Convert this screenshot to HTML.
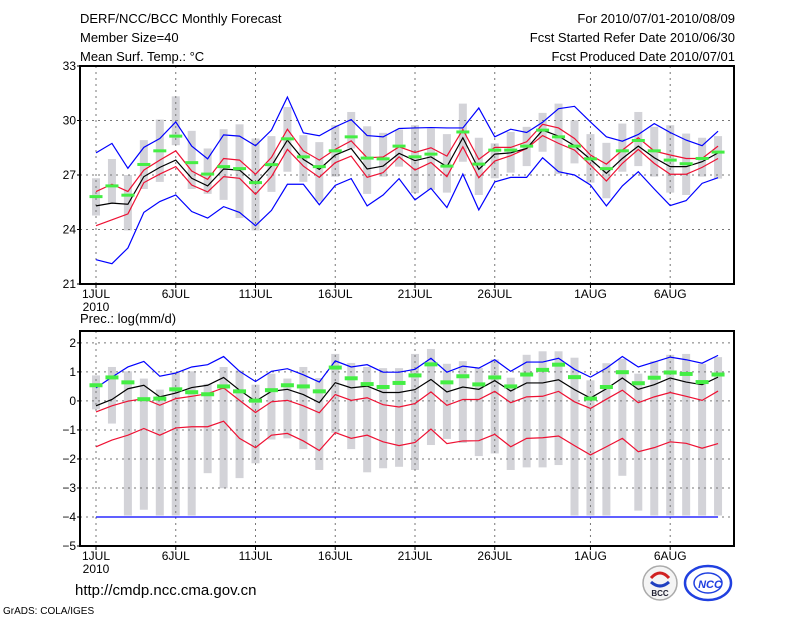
<!DOCTYPE html>
<html><head><meta charset="utf-8"><style>
html,body{margin:0;padding:0;background:#fff;}
svg{display:block;font-family:"Liberation Sans","DejaVu Sans",sans-serif;}
</style></head><body>
<svg id="c" width="800" height="618" viewBox="0 0 800 618" xmlns="http://www.w3.org/2000/svg">
<text x="80" y="23" font-size="13">DERF/NCC/BCC Monthly Forecast</text>
<text x="80" y="42" font-size="13">Member Size=40</text>
<text x="80" y="61" font-size="13">Mean Surf. Temp.: °C</text>
<text x="735" y="23" font-size="13" text-anchor="end">For 2010/07/01-2010/08/09</text>
<text x="735" y="42" font-size="13" text-anchor="end">Fcst Started Refer Date 2010/06/30</text>
<text x="735" y="61" font-size="13" text-anchor="end">Fcst Produced Date 2010/07/01</text>
<text x="80" y="323" font-size="13">Prec.: log(mm/d)</text>
<text x="75" y="595" font-size="15">http://cmdp.ncc.cma.gov.cn</text>
<text x="3" y="614" font-size="10">GrADS: COLA/IGES</text>
<g>
<circle cx="660" cy="583" r="17" fill="#f4f4f4" stroke="#aaa" stroke-width="1.5"/>
<path d="M651 578 q9 -10 18 0" fill="none" stroke="#d02020" stroke-width="3"/>
<path d="M651 582 q9 8 18 0" fill="none" stroke="#2040c0" stroke-width="3"/>
<text x="660" y="596" font-size="8" font-weight="bold" text-anchor="middle" fill="#223">BCC</text>
</g>
<g>
<ellipse cx="708" cy="583" rx="23" ry="17" fill="#fff" stroke="#2040e0" stroke-width="2.5"/>
<ellipse cx="708" cy="583" rx="14" ry="10" fill="none" stroke="#2040e0" stroke-width="1.5"/>
<text x="710" y="588" font-size="11" font-style="italic" font-weight="bold" text-anchor="middle" fill="#2040e0">NCC</text>
</g>
</svg>
<script>
const days = ["1JUL","6JUL","11JUL","16JUL","21JUL","26JUL","1AUG","6AUG"];
const dayIdx = [0,5,10,15,20,25,31,36];
const tTicks = [33,30,27,24,21];
const pTicks = [2,1,0,-1,-2,-3,-4,-5];
// Temperature series (40 days)
const tBlueHi = [28.22,28.74,27.37,28.52,29.01,29.92,28.59,27.89,29.21,29.14,28.61,29.47,31.29,29.32,29.16,29.65,30.05,29.17,29.10,29.56,29.59,29.61,29.59,29.59,30.69,29.10,29.52,29.34,29.90,30.65,30.78,29.92,29.10,28.86,29.23,29.83,29.34,28.92,28.61,29.41];
const tBlueLo = [22.34,22.12,22.98,24.94,25.54,25.90,24.99,24.63,25.26,24.94,24.21,25.05,26.49,26.49,25.36,26.43,26.80,25.30,25.90,26.80,25.63,26.27,25.21,27.05,25.08,26.62,26.87,26.87,27.95,27.18,27.00,26.45,25.30,26.40,27.18,26.23,25.32,25.59,26.54,26.85];
const tRedHi = [26.09,26.49,26.09,27.27,27.82,28.33,27.22,26.76,27.91,27.82,27.04,27.97,29.52,28.33,27.82,28.41,28.88,27.95,27.99,28.55,28.24,28.50,28.04,29.50,27.86,28.52,28.52,28.83,29.79,29.59,29.01,28.10,27.60,28.37,29.05,28.32,28.10,27.91,27.91,28.59];
const tRedLo = [24.21,24.53,24.86,26.58,27.05,27.46,26.45,26.07,26.91,26.82,25.94,26.91,28.41,27.49,26.87,27.68,28.04,26.87,27.13,28.00,27.27,27.69,26.91,28.55,26.85,27.77,28.06,28.46,29.17,28.74,28.37,27.55,26.67,27.64,28.41,27.64,27.04,27.04,27.42,27.91];
const tMean = [25.30,25.45,25.39,26.91,27.42,27.82,26.82,26.40,27.33,27.27,26.51,27.49,28.92,27.86,27.31,28.10,28.46,27.33,27.49,28.19,27.79,28.00,27.46,29.05,27.31,28.15,28.22,28.46,29.47,29.14,28.61,27.86,27.09,27.91,28.59,27.95,27.46,27.46,27.73,28.22];
const tObs = [25.81,26.40,25.89,27.58,28.33,29.14,27.68,27.05,27.46,27.35,26.58,27.57,28.99,28.00,27.46,28.33,29.10,27.93,27.89,28.59,28.00,28.15,27.49,29.37,27.60,28.37,28.37,28.59,29.47,29.10,28.59,27.89,27.35,28.33,28.90,28.33,27.82,27.62,27.91,28.26];
const tBarMax = [26.82,27.88,27.0,28.92,30.05,31.33,29.43,28.46,29.52,29.79,29.01,29.14,30.74,29.19,28.81,29.74,30.47,29.68,29.32,29.50,29.74,29.56,29.25,30.93,29.05,28.74,29.37,29.65,30.42,30.93,30.01,29.25,28.77,29.83,30.47,29.65,29.74,29.28,29.05,29.14];
const tBarMin = [24.77,25.45,23.95,26.23,26.62,28.64,26.23,25.96,25.63,24.63,23.95,26.07,27.18,26.62,25.54,26.91,28.46,25.96,26.91,27.46,26.0,26.18,26.03,27.73,25.90,26.82,27.13,27.49,28.28,27.05,27.64,26.58,25.72,27.18,27.49,26.91,26.03,25.90,26.91,26.80];
// Precipitation series
const pBlueHi = [0.45,0.82,1.17,1.36,0.85,0.96,1.17,1.25,1.53,1.02,0.67,1.02,1.11,0.90,0.65,1.38,1.17,1.25,0.99,0.99,1.09,1.47,0.99,1.20,1.13,1.42,1.02,1.34,1.34,1.47,1.09,0.82,1.13,1.53,1.17,1.34,1.51,1.42,1.30,1.57];
const pBlueLo = [-4,-4,-4,-4,-4,-4,-4,-4,-4,-4,-4,-4,-4,-4,-4,-4,-4,-4,-4,-4,-4,-4,-4,-4,-4,-4,-4,-4,-4,-4,-4,-4,-4,-4,-4,-4,-4,-4,-4,-4];
const pMean = [-0.17,0.05,0.42,0.54,0.14,0.27,0.46,0.54,0.81,0.37,-0.01,0.33,0.40,0.22,-0.06,0.63,0.45,0.51,0.29,0.29,0.39,0.74,0.31,0.48,0.40,0.70,0.34,0.62,0.62,0.73,0.39,0.10,0.42,0.79,0.40,0.56,0.79,0.65,0.56,0.82];
const pRedHi = [-0.38,-0.17,-0.01,0.08,-0.15,0.08,0.16,0.25,0.45,0.02,-0.40,-0.03,0.02,-0.17,-0.41,0.22,0.02,0.11,-0.13,-0.21,-0.09,0.31,-0.15,0.05,0.05,0.33,-0.06,0.14,0.16,0.33,-0.03,-0.26,0.06,0.37,-0.06,0.14,0.29,0.16,0.02,0.34];
const pRedLo = [-1.58,-1.35,-1.18,-0.95,-1.18,-0.93,-0.89,-0.89,-0.70,-1.29,-1.61,-1.18,-1.12,-1.38,-1.71,-1.09,-1.29,-1.18,-1.41,-1.54,-1.43,-0.97,-1.47,-1.38,-1.37,-1.15,-1.58,-1.29,-1.27,-1.21,-1.54,-1.86,-1.58,-1.29,-1.75,-1.61,-1.41,-1.46,-1.63,-1.47];
const pObs = [0.54,0.81,0.64,0.06,0.08,0.40,0.30,0.23,0.50,0.33,0.01,0.37,0.54,0.50,0.33,1.15,0.78,0.58,0.48,0.62,0.88,1.26,0.64,0.85,0.57,0.81,0.50,0.91,1.07,1.25,0.82,0.08,0.48,0.99,0.61,0.80,0.98,0.93,0.65,0.91];
const pBarMax = [0.88,1.17,1.02,0.77,0.39,0.99,1.02,0.59,1.17,1.05,0.56,0.94,0.77,1.17,0.79,1.62,1.31,1.17,1.13,1.13,1.62,1.79,1.28,1.37,1.14,1.43,0.80,1.59,1.71,1.71,1.49,0.71,1.30,1.45,0.94,1.37,1.59,1.62,1.28,1.51];
const pBarMin = [-0.29,-0.78,-3.95,-3.75,-3.95,-3.95,-3.95,-2.49,-3.01,-2.66,-2.15,-1.33,-1.29,-1.66,-2.38,-1.10,-1.66,-2.46,-2.32,-2.27,-2.38,-1.52,-1.31,-1.45,-1.90,-1.81,-2.38,-2.29,-2.29,-2.21,-3.95,-3.95,-3.95,-2.58,-3.78,-3.95,-3.95,-3.95,-3.95,-3.95];

const svg = document.getElementById('c');
const NS = 'http://www.w3.org/2000/svg';
function mk(tag, attrs, parent){const e=document.createElementNS(NS,tag);for(const k in attrs)e.setAttribute(k,attrs[k]);(parent||svg).appendChild(e);return e;}
const X0=80, X1=734;
function xs(i){return 96+i*15.95;}

function panel(cfg){
  const {top,bot,vmin,vmax,ticks,name}=cfg;
  const ys=v=>bot-(v-vmin)/(vmax-vmin)*(bot-top);
  const g=mk('g',{});
  
  
  // bars
  for(let i=0;i<cfg.bmax.length;i++){
    const r=mk('rect',{x:xs(i)-4,y:ys(cfg.bmax[i]),width:8,height:ys(cfg.bmin[i])-ys(cfg.bmax[i]),fill:'#d3d3d8'},g);
    
    
  }
  // grid
  ticks.forEach(t=>{ if(t===vmin||t>=vmax) return;
    const l=mk('line',{x1:X0,x2:X1,y1:ys(t),y2:ys(t),stroke:'#777','stroke-dasharray':'2,4','stroke-width':1},g);
    
    
  });
  dayIdx.forEach(d=>{
    const l=mk('line',{x1:xs(d),x2:xs(d),y1:top,y2:bot,stroke:'#777','stroke-dasharray':'2,4','stroke-width':1},g);
    
    
  });
  function line(arr,color,nm){
    const p=mk('polyline',{points:arr.map((v,i)=>xs(i)+','+ys(v)).join(' '),fill:'none',stroke:color,'stroke-width':1.2},g);
    
    
  }
  line(cfg.blo,'#0000ff','min-line');
  line(cfg.bhi,'#0000ff','max-line');
  line(cfg.rlo,'#ee1133','lower-line');
  line(cfg.rhi,'#ee1133','upper-line');
  line(cfg.mean,'#000','ensemble-mean-line');
  for(let i=0;i<cfg.obs.length;i++){
    const r=mk('rect',{x:xs(i)-6.5,y:ys(cfg.obs[i])-cfg.gh/2,width:13,height:cfg.gh,fill:'#44ee44'},g);
    
    
  }
  const fr=mk('rect',{x:X0,y:top,width:X1-X0,height:bot-top,fill:'none',stroke:'#000','stroke-width':2},g);
  
  
  ticks.forEach(t=>{
    mk('line',{x1:X0-3,x2:X0,y1:ys(t),y2:ys(t),stroke:'#000'},g);
    const tx=mk('text',{x:X0-4,y:ys(t)+4,'font-size':12,'text-anchor':'end'},g);
    tx.textContent=(t<0?'\u2212'+(-t):t);
    
    
  });
  dayIdx.forEach((d,k)=>{
    mk('line',{x1:xs(d),x2:xs(d),y1:bot,y2:bot+4,stroke:'#000'},g);
    const tx=mk('text',{x:xs(d),y:bot+14,'font-size':12,'text-anchor':'middle'},g);
    tx.textContent=days[k];
    
    
  });
  const yr=mk('text',{x:xs(0),y:bot+27,'font-size':12,'text-anchor':'middle'},g);
  yr.textContent='2010';
  
  
}
panel({name:'temperature-panel',top:66,bot:284,vmin:21,vmax:33,ticks:tTicks,bmax:tBarMax,bmin:tBarMin,bhi:tBlueHi,blo:tBlueLo,rhi:tRedHi,rlo:tRedLo,mean:tMean,obs:tObs,gh:3});
panel({name:'precipitation-panel',top:331,bot:546,vmin:-5,vmax:2.41,ticks:pTicks,bmax:pBarMax,bmin:pBarMin,bhi:pBlueHi,blo:pBlueLo,rhi:pRedHi,rlo:pRedLo,mean:pMean,obs:pObs,gh:4});
</script>
</body></html>
